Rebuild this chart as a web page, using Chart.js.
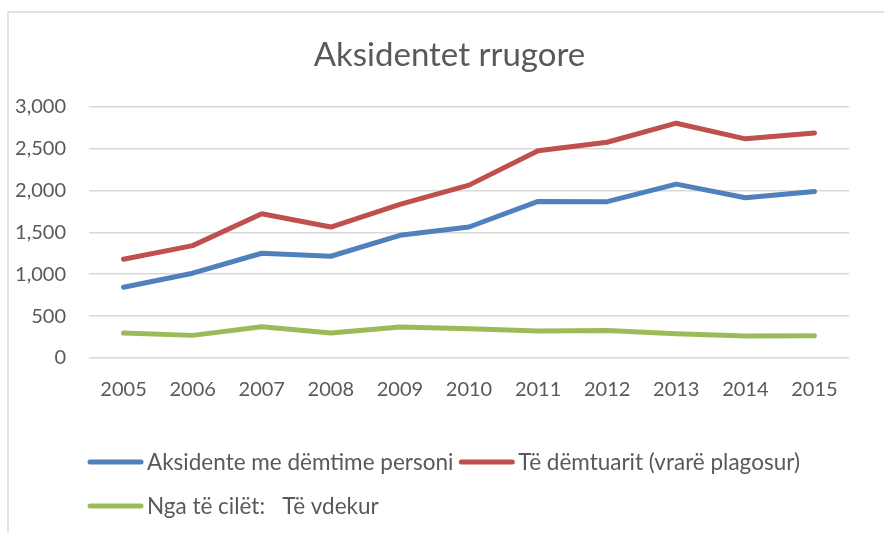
<!DOCTYPE html>
<html>
<head>
<meta charset="utf-8">
<title>Aksidentet rrugore</title>
<script src="https://cdn.jsdelivr.net/npm/chart.js@4.4.1/dist/chart.umd.min.js"></script>
<style>
  html,body{margin:0;padding:0;background:#fff}
  #wrap{position:relative;width:884px;height:533px}
</style>
</head>
<body>
<div id="wrap"><canvas id="roadChart" width="884" height="533"></canvas></div>
<script>
// --- data ---
const years = ['2005','2006','2007','2008','2009','2010','2011','2012','2013','2014','2015']
const accidents = [845,1012,1250,1214,1464,1563,1869,1866,2075,1913,1988]
const injured = [1179,1341,1722,1563,1833,2063,2472,2575,2802,2615,2686]
const killed = [298,270,373,298,369,349,321,329,290,262,265]
const yTicks = [0,500,1000,1500,2000,2500,3000]

const seriesNames = ['Aksidente me dëmtime personi','Të dëmtuarit (vrarë plagosur)','Nga të cilët:   Të vdekur']
const colors = ['#4f81bd','#c0504d','#9bbb59']
const textColor = '#595959'
const gridColor = '#d9d9d9'
const fontFamily = 'Lato, "Open Sans", sans-serif'

// chart frame (left + top edge only, the rest is cropped)
const framePlugin = {
  id:'frame',
  afterLayout(chart){
    // Excel centres the title a bit right of the canvas middle
    if(chart.titleBlock) chart.titleBlock.left = 50
  },
  beforeDraw(chart){
    const ctx = chart.ctx
    ctx.save()
    ctx.strokeStyle = gridColor
    ctx.lineWidth = 1.5
    ctx.beginPath()
    ctx.moveTo(8, chart.height)
    ctx.lineTo(8, 12)
    ctx.lineTo(chart.width, 12)
    ctx.stroke()
    ctx.restore()
  }
}

// legend under the plot, Excel style (long line sample, tight text)
const legendPlugin = {
  id:'bottomLegend',
  afterDraw(chart){
    const ctx = chart.ctx
    ctx.save()
    ctx.font = '22.5px ' + fontFamily
    ctx.textBaseline = 'middle'
    let x = 88, y = chart.chartArea.bottom + 104
    chart.data.datasets.forEach(ds=>{
      const w = 59 + ctx.measureText(ds.label).width
      if(x + w > chart.chartArea.right){ x = 88; y += 44 }
      ctx.strokeStyle = ds.borderColor
      ctx.lineWidth = 5
      ctx.lineCap = 'round'
      ctx.beginPath()
      ctx.moveTo(x + 2, y)
      ctx.lineTo(x + 53, y)
      ctx.stroke()
      ctx.fillStyle = textColor
      ctx.fillText(ds.label, x + 59, y + 1)
      x += w + 6
    })
    ctx.restore()
  }
}

function makeDataset(label, data, color){
  return {label, data, borderColor:color, backgroundColor:color, borderWidth:5,
    borderCapStyle:'round', borderJoinStyle:'round', pointRadius:0, pointHoverRadius:0, tension:0, fill:false}
}

function drawChart(){
  try {
    new Chart(document.getElementById('roadChart'), {
      type:'line',
      data:{
        labels:years,
        datasets:[
          makeDataset(seriesNames[0], accidents, colors[0]),
          makeDataset(seriesNames[1], injured, colors[1]),
          makeDataset(seriesNames[2], killed, colors[2])
        ]
      },
      options:{
        responsive:false,
        animation:false,
        devicePixelRatio:1,
        layout:{padding:{left:0, top:0, right:35, bottom:100}},
        plugins:{
          legend:{display:false},
          tooltip:{enabled:false},
          title:{display:true, text:'Aksidentet rrugore', color:textColor,
            font:{family:fontFamily, size:33, weight:'normal'}, padding:{top:35.4, bottom:31.6}}
        },
        scales:{
          x:{
            offset:true,
            grid:{display:false},
            border:{display:false},
            ticks:{color:textColor, font:{family:fontFamily, size:20}, padding:12, maxRotation:0},
            afterFit:s=>{ s.height = 75 }
          },
          y:{
            min:0, max:3000,
            grid:{color:gridColor, lineWidth:1.5, drawTicks:false},
            border:{display:false},
            ticks:{color:textColor, font:{family:fontFamily, size:20}, padding:23,
              callback:v=>v.toLocaleString('en-US')},
            afterBuildTicks:s=>{ s.ticks = yTicks.map(v=>({value:v})) },
            afterFit:s=>{ s.width = 89 }
          }
        }
      },
      plugins:[framePlugin, legendPlugin]
    })
  } catch(e) {
    console.error('Error drawing chart:', e)
  }
}

if(document.fonts && document.fonts.load){
  document.fonts.load('20px Lato').then(drawChart, drawChart)
} else drawChart()
</script>
</body>
</html>
